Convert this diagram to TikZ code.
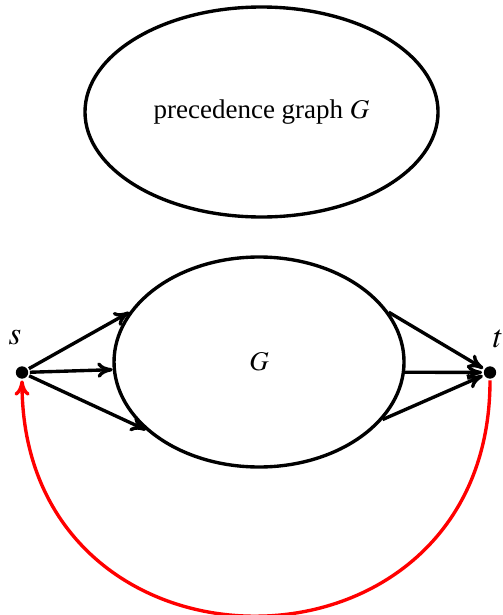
\documentclass[tikz,border=0pt,12pt]{standalone}
\usepackage{mathptmx}
\usepackage{fontspec}
\setmainfont{Liberation Serif}
\usetikzlibrary{arrows.meta,positioning,shapes.geometric}

\begin{document}
\begin{tikzpicture}[line width=1.5pt,>={To[length=2.4mm,width=2.4mm]},
    blob/.style={draw,ellipse,inner sep=0pt,minimum height=3.281cm},
    dot/.style={circle,fill,inner sep=0pt,minimum size=5.5pt}]
  \useasboundingbox (0,0) rectangle (7.844,-9.609);
  \node[blob,minimum width=5.516cm] (prec) at (4.086,-1.750){precedence graph $G$};
  \node[blob,minimum width=4.531cm] (G) at (4.047,-5.656){$G$};
  \node[dot] (s) at (0.344,-5.82){};
  \node[dot] (t) at (7.656,-5.82){};
  \node (slbl) at (0.234,-5.28){\large$s$};
  \node (tlbl) at (7.781,-5.30){\large$t$};
  \draw[->] (s) -- (G.159);
  \draw[->] (s) -- (G.183);
  \draw[->] (s) -- (G.211);
  \draw[->] (G.21) -- (t);
  \draw[->] (G.356) -- (t);
  \draw[->] (G.335) -- (t);
  \draw[->,red] (t) to[out=-90,in=-90,looseness=1.72] (s);
\end{tikzpicture}
\end{document}
